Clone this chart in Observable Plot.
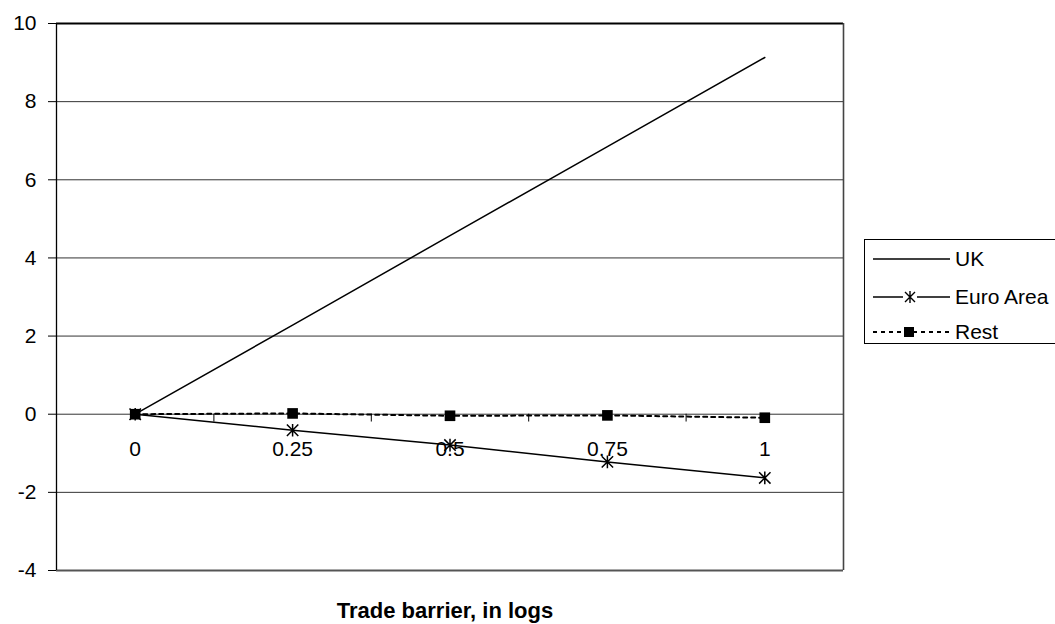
<!DOCTYPE html>
<html>
<head>
<meta charset="utf-8">
<script src="https://cdn.jsdelivr.net/npm/d3@7"></script>
<script src="https://cdn.jsdelivr.net/npm/@observablehq/plot@0.6"></script>
<style>
  html, body { margin: 0; padding: 0; background: #fff; }
  #wrap { position: relative; width: 1055px; height: 624px; overflow: hidden; font-family: "Liberation Sans", Arial, sans-serif; }
  #legend { position: absolute; left: 864px; top: 239px; }
</style>
</head>
<body>
<div id="wrap"></div>
<script>
// ---- data ----
const categories = ["0", "0.25", "0.5", "0.75", "1"];
const xValues = [0, 0.25, 0.5, 0.75, 1];
const ukValues = [0, 2.28, 4.57, 6.85, 9.13];
const euroValues = [0, -0.41, -0.79, -1.22, -1.63];
const restValues = [0, 0.02, -0.04, -0.03, -0.09];
const yTicks = [-4, -2, 0, 2, 4, 6, 8, 10];
const seriesNames = ["UK", "Euro Area", "Rest"];
const xTitle = "Trade barrier, in logs";

const rows = xValues.map((x, i) => ({x, label: categories[i], uk: ukValues[i], euro: euroValues[i], rest: restValues[i]}));
const step = xValues[1] - xValues[0];
const xDomain = [xValues[0] - step / 2, xValues[xValues.length - 1] + step / 2];
const boundaries = xValues.slice(0, -1).map(v => v + step / 2);

// Excel-like star marker: X plus vertical bar
const starSymbol = {
  draw(context, size) {
    const r = Math.sqrt(size / Math.PI);
    const d = r * 0.95;
    context.moveTo(-d, -d); context.lineTo(d, d);
    context.moveTo(-d, d); context.lineTo(d, -d);
    context.moveTo(0, -r * 1.05); context.lineTo(0, r * 1.05);
  }
};

const FONT = 21;
const DASH = "4,4";

const chart = Plot.plot({
  width: 1055,
  height: 624,
  marginLeft: 56,
  marginRight: 212,
  marginTop: 23,
  marginBottom: 54,
  style: {fontFamily: "Liberation Sans, Arial, sans-serif", fontSize: FONT + "px", color: "#000", background: "#fff"},
  x: {domain: xDomain, axis: null},
  y: {domain: [yTicks[0], yTicks[yTicks.length - 1]], ticks: yTicks, tickSize: 8, tickPadding: 12, label: null, tickFormat: d => String(d)},
  marks: [
    Plot.ruleY(yTicks, {stroke: "#333", strokeWidth: 1}),
    Plot.ruleY([yTicks[yTicks.length - 1]], {stroke: "#000", strokeWidth: 2}),
    Plot.ruleY([yTicks[0]], {stroke: "#555", strokeWidth: 2}),
    Plot.ruleX([xDomain[0]], {stroke: "#000", strokeWidth: 1.3}),
    Plot.ruleX([xDomain[1]], {stroke: "#444", strokeWidth: 1.6}),
    Plot.ruleX(boundaries, {y1: 0, y2: -0.2, stroke: "#000", strokeWidth: 1}),
    Plot.text(rows, {x: "x", y: 0, text: "label", dy: 35, fill: "#000", fontSize: FONT}),
    Plot.text([xTitle], {frameAnchor: "bottom", lineAnchor: "middle", dx: -5, dy: 40, fontWeight: "bold", fontSize: 22, fill: "#000"}),
    Plot.line(rows, {x: "x", y: "uk", stroke: "#000", strokeWidth: 1.5}),
    Plot.line(rows, {x: "x", y: "euro", stroke: "#000", strokeWidth: 1.5}),
    Plot.line(rows, {x: "x", y: "rest", stroke: "#000", strokeWidth: 2, strokeDasharray: DASH}),
    Plot.dot(rows, {x: "x", y: "euro", symbol: starSymbol, r: 6, stroke: "#000", strokeWidth: 1.5, fill: "none"}),
    Plot.dot(rows, {x: "x", y: "rest", symbol: "square", r: 6, fill: "#000", stroke: "none"})
  ]
});
document.getElementById("wrap").appendChild(chart);

// ---- legend ----
const legW = 200, legH = 105;
const leg = d3.select("#wrap").append("svg")
  .attr("id", "legend").attr("width", legW).attr("height", legH)
  .style("font-family", "Liberation Sans, Arial, sans-serif");
leg.append("rect").attr("x", 0.5).attr("y", 0.5).attr("width", legW + 10).attr("height", legH - 1)
  .attr("fill", "#fff").attr("stroke", "#000").attr("stroke-width", 1);
const itemY = [20, 58, 93];
const styles = [
  {dash: null, marker: null},
  {dash: null, marker: "star"},
  {dash: DASH, marker: "square"}
];
seriesNames.forEach((name, i) => {
  const g = leg.append("g").attr("transform", `translate(0,${itemY[i]})`);
  g.append("line").attr("x1", 9).attr("x2", 86).attr("y1", 0).attr("y2", 0)
    .attr("stroke", "#000").attr("stroke-width", i === 2 ? 2 : 1.5)
    .attr("stroke-dasharray", styles[i].dash);
  if (styles[i].marker === "star") {
    g.append("rect").attr("x", 39).attr("y", -7).attr("width", 14).attr("height", 14).attr("fill", "#fff");
    g.append("path").attr("transform", "translate(46,0)")
      .attr("d", "M-5,-5L5,5M-5,5L5,-5M0,-6L0,6").attr("stroke", "#000").attr("stroke-width", 1.4).attr("fill", "none");
  } else if (styles[i].marker === "square") {
    g.append("rect").attr("x", 40).attr("y", -5).attr("width", 10).attr("height", 10).attr("fill", "#000");
  }
  g.append("text").attr("x", 91).attr("y", 0).attr("dy", "0.35em")
    .attr("font-size", FONT).attr("fill", "#000").text(name);
});
</script>
</body>
</html>
